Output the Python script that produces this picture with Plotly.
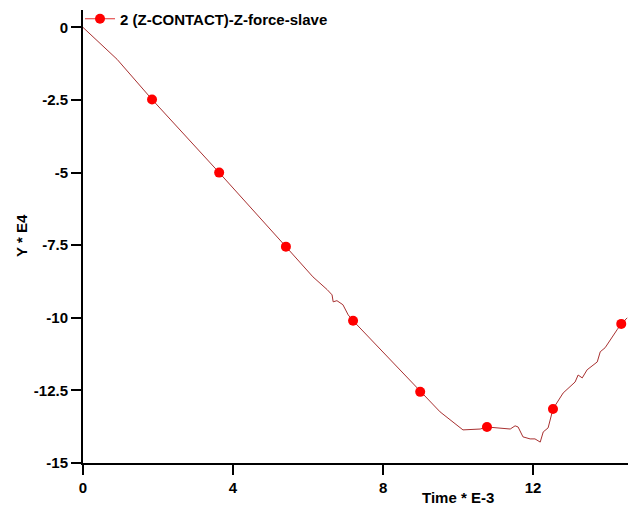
import plotly.graph_objects as go

# Curve (time * E-3, force * E4)
time_vals = [0, 0.91, 1.84, 3.63, 5.41, 5.73, 6.13, 6.51, 6.64, 6.67, 6.77, 6.93, 7.07, 7.2,
             8.19, 8.99, 9.52, 10.13, 10.59, 10.77, 11.07, 11.39, 11.52, 11.6, 11.73, 11.92,
             12.05, 12.19, 12.27, 12.4, 12.53, 12.8, 13.12, 13.2, 13.31, 13.44, 13.71, 13.79,
             13.92, 14.05, 14.24, 14.35, 14.51]
force_vals = [0, -1.10, -2.48, -5.0, -7.55, -8.0, -8.59, -9.03, -9.21, -9.45, -9.41, -9.55, -9.90, -10.1,
              -11.45, -12.55, -13.24, -13.86, -13.83, -13.76, -13.79, -13.83, -13.72, -13.76, -14.10, -14.17,
              -14.17, -14.28, -13.93, -13.79, -13.14, -12.59, -12.21, -11.97, -12.07, -11.79, -11.52, -11.17,
              -11.03, -10.76, -10.41, -10.21, -10.0]

# Marker samples along the curve
marker_time = [1.84, 3.63, 5.41, 7.2, 8.99, 10.77, 12.53, 14.35]
marker_force = [-2.48, -5.0, -7.55, -10.1, -12.55, -13.76, -13.14, -10.21]

x_ticks = [0, 4, 8, 12]
y_ticks = [0, -2.5, -5, -7.5, -10, -12.5, -15]
y_tick_text = ["0", "-2.5", "-5", "-7.5", "-10", "-12.5", "-15"]

series_name = "2 (Z-CONTACT)-Z-force-slave"
x_title = "Time * E-3"
y_title = "Y * E4"

FONT = "Liberation Sans, Arial, sans-serif"
L, R, T, B = 83, 10, 10, 45
W, H = 638 - L - R, 508 - T - B

fig = go.Figure()
fig.add_trace(go.Scatter(x=time_vals, y=force_vals, mode="lines",
                         line=dict(color="#a83030", width=1), showlegend=False, hoverinfo="skip"))
fig.add_trace(go.Scatter(x=marker_time, y=marker_force, mode="markers",
                         marker=dict(color="#ff0000", size=10), showlegend=False))
# legend entry
fig.add_trace(go.Scatter(x=[None], y=[None], mode="lines+markers", name=series_name,
                         line=dict(color="#e03030", width=1),
                         marker=dict(color="#ff0000", size=10)))

fig.update_layout(
    width=638, height=508,
    margin=dict(l=L, r=R, t=T, b=B, autoexpand=False),
    paper_bgcolor="white", plot_bgcolor="white",
    font=dict(family=FONT, size=15, color="black", weight="bold"),
    showlegend=True,
    legend=dict(x=(80 - L) / W, y=1 - 9 / H, xanchor="left", yanchor="middle",
                bgcolor="rgba(0,0,0,0)", itemwidth=30,
                font=dict(family=FONT, size=15, color="black", weight="bold")),
    xaxis=dict(range=[0, 14.53], tickvals=x_ticks, ticks="outside", ticklen=10,
               tickcolor="black", tickwidth=2, showline=True, linecolor="black", linewidth=2,
               showgrid=False, zeroline=False, automargin=False,
               tickfont=dict(family=FONT, size=15, color="black", weight="bold")),
    yaxis=dict(range=[-15, 0.6], tickvals=y_ticks, ticktext=y_tick_text, ticks="outside", ticklen=10,
               tickcolor="black", tickwidth=2, showline=True, linecolor="black", linewidth=2,
               showgrid=False, zeroline=False, automargin=False,
               tickfont=dict(family=FONT, size=15, color="black", weight="bold")),
    annotations=[
        dict(text=x_title, x=(458 - L) / W, y=(508 - B - 497) / H, xref="paper", yref="paper",
             xanchor="center", yanchor="middle", showarrow=False,
             font=dict(size=15, weight="bold")),
        dict(text=y_title, x=(21 - L) / W, y=(508 - B - 236) / H, xref="paper", yref="paper",
             xanchor="center", yanchor="middle", showarrow=False, textangle=-90,
             font=dict(size=15, weight="bold")),
    ],
)

fig.write_html("out.html", config={"displayModeBar": False},
               post_script="document.body.style.margin='0';")
